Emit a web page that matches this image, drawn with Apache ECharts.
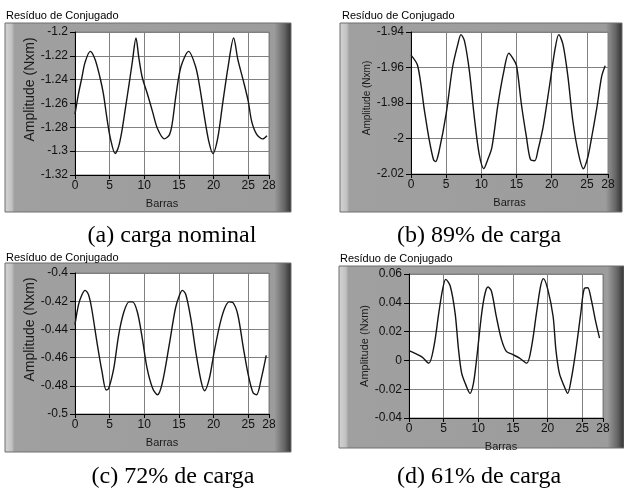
<!DOCTYPE html>
<html>
<head>
<meta charset="utf-8">
<script src="https://cdn.jsdelivr.net/npm/echarts@6/dist/echarts.min.js"></script>
<style>
  html, body { margin: 0; padding: 0; background: #ffffff; }
  #chart { width: 624px; height: 488px; }
</style>
</head>
<body>
<div id="chart"></div>
<script>
// ---- data ----
const barrasA = [0,0.5,1,1.45,2.2,2.9,3.6,4.1,4.6,5.1,5.8,6.3,6.8,7.3,7.8,8.3,8.8,9.2,9.7,10.4,11.2,11.9,12.9,13.6,14,14.6,15.3,16.4,17.4,18,18.7,19.3,19.9,20.6,21.3,22.1,22.9,23.5,24.3,25,25.5,26.2,27.1,27.7];
const residuoA = [-1.269,-1.252,-1.238,-1.2255,-1.2163,-1.223,-1.238,-1.252,-1.272,-1.289,-1.302,-1.296,-1.282,-1.263,-1.244,-1.224,-1.205,-1.221,-1.238,-1.251,-1.267,-1.281,-1.2897,-1.2865,-1.278,-1.252,-1.229,-1.2163,-1.229,-1.246,-1.272,-1.2915,-1.302,-1.289,-1.2605,-1.229,-1.205,-1.223,-1.241,-1.258,-1.275,-1.2856,-1.2897,-1.287];

const barrasB = [0,0.95,1.9,2.6,3.2,3.5,4,5,5.9,6.65,7.1,7.6,8.3,9,9.7,10.35,10.9,11.5,12.35,13.2,13.9,14.5,15,15.7,16.4,17,17.6,18.05,18.8,19.7,20.5,21,21.6,22.3,23,23.8,24.5,25.1,25.65,26.4,27.1,27.6];
const residuoB = [-1.953,-1.959,-1.984,-2.001,-2.012,-2.013,-2.007,-1.986,-1.96,-1.947,-1.9415,-1.945,-1.962,-1.988,-2.009,-2.017,-2.012,-2.005,-1.981,-1.962,-1.952,-1.955,-1.959,-1.981,-1.999,-2.012,-2.0125,-2.0065,-1.993,-1.97,-1.949,-1.9415,-1.947,-1.965,-1.99,-2.0085,-2.017,-2.011,-2.0,-1.983,-1.965,-1.959];

const barrasC = [0,0.5,1,1.45,1.95,2.4,3.15,3.9,4.5,4.85,5.6,6.3,7.05,7.8,8.3,9,9.7,10.4,11.2,11.9,12.6,13.6,14.5,15.1,15.5,16,16.7,17.5,18.2,18.7,19.4,20.1,20.9,21.6,22.25,22.8,23.5,24.3,25,25.7,26.2,26.9,27.6];
const residuoC = [-0.4366,-0.4226,-0.4154,-0.4123,-0.4154,-0.425,-0.4485,-0.47,-0.483,-0.482,-0.4675,-0.444,-0.4277,-0.4205,-0.4205,-0.4277,-0.446,-0.4675,-0.4817,-0.4864,-0.478,-0.451,-0.425,-0.4154,-0.4123,-0.4154,-0.4319,-0.4579,-0.4768,-0.4835,-0.4745,-0.4556,-0.4366,-0.425,-0.4205,-0.421,-0.4296,-0.4532,-0.472,-0.485,-0.4864,-0.4745,-0.4584];

const barrasD = [0,0.95,1.9,2.85,3.6,4.3,4.85,5.3,5.95,6.65,7.15,7.6,8.2,8.8,9.3,9.75,10.5,11,11.4,11.9,12.6,13.35,14.05,15,15.95,17,17.7,18.4,19,19.4,20.05,20.8,21.2,21.7,22.4,22.9,23.4,24.1,24.8,25.3,25.8,26.3,26.9,27.5];
const residuoD = [0.0068,0.0047,0.0023,-0.0019,0.0098,0.033,0.0493,0.0563,0.0517,0.033,0.0075,-0.0089,-0.017,-0.0229,-0.0159,0.0005,0.033,0.047,0.051,0.048,0.0305,0.0144,0.0063,0.004,0.0016,-0.0019,0.0098,0.033,0.0517,0.0568,0.049,0.0305,0.0075,-0.0089,-0.018,-0.0229,-0.0136,0.0075,0.033,0.05,0.0505,0.0423,0.028,0.0155];

const yRangeA = [-1.32, -1.2];
const yRangeB = [-2.02, -1.94];
const yRangeC = [-0.5, -0.4];
const yRangeD = [-0.04, 0.06];
const yStep = 0.02;
const xRange = [0, 28];
const xStep = 5;

const panelTitle = 'Resíduo de Conjugado';
const xName = 'Barras';
const yName = 'Amplitude (Nxm)';
const captions = ['(a) carga nominal', '(b) 89% de carga', '(c) 72% de carga', '(d) 61% de carga'];

// ---- layout ----
const panels = [
  { xs: barrasA, ys: residuoA, yr: yRangeA, grid: {left: 75, top: 32, width: 194, height: 143},
    frame: [5, 23, 286, 189], titlePos: [6, 10], cap: [172, 236],
    yNameGap: 33, yNameSize: 14, yNamePad: [0,0,0,28], xNamePad: [0,20,0,0], xNameGap: 23 },
  { xs: barrasB, ys: residuoB, yr: yRangeB, grid: {left: 411, top: 32, width: 197, height: 142},
    frame: [340, 23, 282, 189], titlePos: [342, 10], cap: [479, 236],
    yNameGap: 37, yNameSize: 10, yNamePad: [0,0,0,10], xNamePad: [0,0,0,0], xNameGap: 23 },
  { xs: barrasC, ys: residuoC, yr: yRangeC, grid: {left: 75, top: 273, width: 194, height: 141},
    frame: [5, 263, 286, 189], titlePos: [6, 252], cap: [173, 477],
    yNameGap: 33, yNameSize: 14, yNamePad: [0,0,0,28], xNamePad: [0,20,0,0], xNameGap: 23 },
  { xs: barrasD, ys: residuoD, yr: yRangeD, grid: {left: 409, top: 274, width: 194, height: 144},
    frame: [339, 266, 285, 182], titlePos: [340, 253], cap: [479, 477],
    yNameGap: 36, yNameSize: 11, yNamePad: [0,0,0,0], xNamePad: [0,10,0,0], xNameGap: 23 }
];

const sans = 'Liberation Sans, Arial, sans-serif';
const serif = 'Liberation Serif, Times New Roman, serif';

const chart = echarts.init(document.getElementById('chart'), null, {renderer: 'canvas'});

const grids = [], xAxes = [], yAxes = [], series = [], graphics = [];

panels.forEach((p, i) => {
  grids.push(Object.assign({
    show: true, backgroundColor: '#ffffff', borderColor: '#808080', borderWidth: 1, containLabel: false
  }, p.grid));

  xAxes.push({
    type: 'value', gridIndex: i, min: xRange[0], max: xRange[1], interval: xStep,
    name: xName, nameLocation: 'middle', nameGap: p.xNameGap,
    nameTextStyle: {fontFamily: sans, fontSize: 11, color: '#1a1a1a', padding: p.xNamePad},
    axisLine: {show: true, onZero: false, lineStyle: {color: '#000', width: 1}},
    axisTick: {show: true, inside: false, length: 4, lineStyle: {color: '#000'}},
    axisLabel: {fontFamily: sans, fontSize: 12, color: '#111', margin: 5, showMaxLabel: true, hideOverlap: false},
    splitLine: {show: true, lineStyle: {color: '#808080', width: 1}}
  });

  yAxes.push({
    type: 'value', gridIndex: i, min: p.yr[0], max: p.yr[1], interval: yStep,
    name: yName, nameLocation: 'middle', nameGap: p.yNameGap,
    nameTextStyle: {fontFamily: sans, fontSize: p.yNameSize, color: '#1a1a1a', padding: p.yNamePad},
    axisLine: {show: true, onZero: false, lineStyle: {color: '#000', width: 1}},
    axisTick: {show: true, inside: false, length: 5, lineStyle: {color: '#000'}},
    axisLabel: {fontFamily: sans, fontSize: 12, color: '#111', margin: 7, showMaxLabel: true, showMinLabel: true},
    splitLine: {show: true, lineStyle: {color: '#808080', width: 1}}
  });

  series.push({
    type: 'line', xAxisIndex: i, yAxisIndex: i,
    data: p.xs.map((x, k) => [x, p.ys[k]]),
    smooth: 0.3, showSymbol: false, symbol: 'none',
    lineStyle: {color: '#151515', width: 1.4},
    clip: true, animation: false
  });

  const [fx, fy, fw, fh] = p.frame;
  graphics.push({
    type: 'rect', z: -10,
    shape: {x: fx, y: fy, width: fw, height: fh},
    style: {
      fill: new echarts.graphic.LinearGradient(0, 0, 1, 0, [
        {offset: 0, color: '#d4d4d4'},
        {offset: 0.025, color: '#c2c2c2'},
        {offset: 0.035, color: '#a0a0a0'},
        {offset: 0.94, color: '#9c9c9c'},
        {offset: 0.975, color: '#666666'},
        {offset: 1, color: '#2e2e2e'}
      ]),
      stroke: '#6e6e6e', lineWidth: 1
    }
  });
  graphics.push({
    type: 'text', z: 10, left: p.titlePos[0], top: p.titlePos[1],
    style: {text: panelTitle, fontFamily: sans, fontSize: 11, fill: '#000'}
  });
  graphics.push({
    type: 'text', z: 10, x: p.cap[0], y: p.cap[1],
    style: {text: captions[i], fontFamily: serif, fontSize: 24, fill: '#000', align: 'center', verticalAlign: 'middle'}
  });
});

chart.setOption({
  animation: false,
  backgroundColor: '#ffffff',
  grid: grids,
  xAxis: xAxes,
  yAxis: yAxes,
  series: series,
  graphic: {elements: graphics}
});
</script>
</body>
</html>
